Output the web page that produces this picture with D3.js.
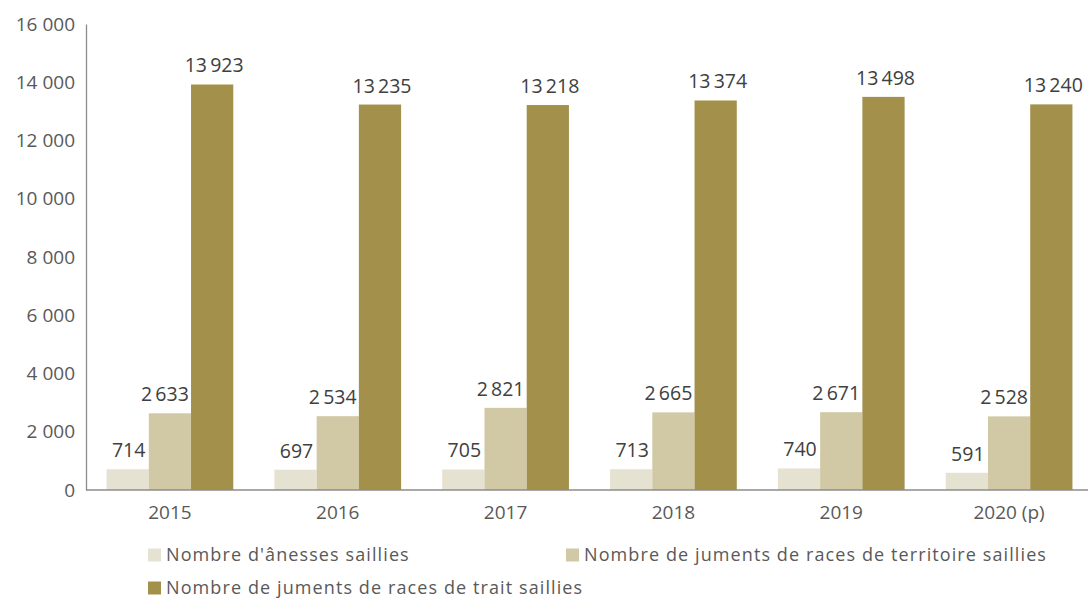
<!DOCTYPE html>
<meta charset="utf-8">
<style>
body { margin: 0; background: #fff; }
text { font-family: "Open Sans", "Noto Sans", sans-serif; }
.tick text { fill: #595959; font-size: 19px; }
.value { fill: #404040; font-size: 19.5px; }
.legend text { fill: #595959; font-size: 18px; letter-spacing: 1.1px; }
</style>
<body>
<script src="https://cdn.jsdelivr.net/npm/d3@7"></script>
<script>
const width = 1088;
const height = 599;

const years = ["2015", "2016", "2017", "2018", "2019", "2020 (p)"];
const seriesNames = [
    "Nombre d'ânesses saillies",
    "Nombre de juments de races de territoire saillies",
    "Nombre de juments de races de trait saillies"
];
const anesses = [714, 697, 705, 713, 740, 591];
const territoire = [2633, 2534, 2821, 2665, 2671, 2528];
const trait = [13923, 13235, 13218, 13374, 13498, 13240];
const yTicks = [0, 2000, 4000, 6000, 8000, 10000, 12000, 14000, 16000];
const colors = ["#e6e2d1", "#d1c9a5", "#a3914b"];

const series = [anesses, territoire, trait];

const fmtTick = d3.formatLocale({ decimal: ",", thousands: " ", grouping: [3], currency: ["", " €"] }).format(",d");
const fmtValue = d3.formatLocale({ decimal: ",", thousands: "\u2009", grouping: [3], currency: ["", " €"] }).format(",d");

// small horizontal nudge of the value labels, per series
const labelShift = [1, -5, 2];

const svg = d3.select("body").append("svg")
    .attr("width", width)
    .attr("height", height);

const x = d3.scaleBand()
    .domain(years)
    .range([86, 1093])
    .paddingInner(0.245)
    .paddingOuter(0.1225);

const xSub = d3.scaleBand()
    .domain(d3.range(series.length))
    .range([0, x.bandwidth()]);

const y = d3.scaleLinear()
    .domain([0, 16000])
    .range([490, 24]);

// bars
series.forEach(function(values, i) {
    const g = svg.append("g");
    g.selectAll("rect")
        .data(values)
        .enter().append("rect")
        .attr("x", function(d, j) { return x(years[j]) + xSub(i); })
        .attr("y", function(d) { return y(d); })
        .attr("width", xSub.bandwidth())
        .attr("height", function(d) { return y(0) - y(d); })
        .attr("fill", colors[i]);

    g.selectAll("text")
        .data(values)
        .enter().append("text")
        .attr("class", "value")
        .attr("x", function(d, j) { return x(years[j]) + xSub(i) + xSub.bandwidth() / 2 + labelShift[i]; })
        .attr("y", function(d) { return y(d) - 12; })
        .attr("text-anchor", "middle")
        .text(function(d) { return fmtValue(d); });
});

// y axis
const yAxis = svg.append("g")
    .attr("transform", "translate(86,0)")
    .call(d3.axisLeft(y).tickValues(yTicks).tickSize(0).tickPadding(11).tickFormat(fmtTick));
yAxis.select(".domain").attr("stroke", "#8c8c8c").attr("stroke-width", 1.3);

// x axis
const xAxis = svg.append("g")
    .attr("transform", "translate(0,490)")
    .call(d3.axisBottom(x).tickSize(0).tickPadding(16));
xAxis.select(".domain").attr("stroke", "#8c8c8c").attr("stroke-width", 1.3).attr("d", "M86,0H1088");

// legend
const legendPos = [[148, 555], [566, 555], [148, 588]];
const legend = svg.append("g").attr("class", "legend");
seriesNames.forEach(function(name, i) {
    const item = legend.append("g")
        .attr("transform", "translate(" + legendPos[i][0] + "," + legendPos[i][1] + ")");
    item.append("rect")
        .attr("x", 0)
        .attr("y", -6.5)
        .attr("width", 13)
        .attr("height", 13)
        .attr("fill", colors[i]);
    item.append("text")
        .attr("x", 18)
        .attr("y", 0)
        .attr("dy", "0.35em")
        .text(name);
});
</script>
</body>
